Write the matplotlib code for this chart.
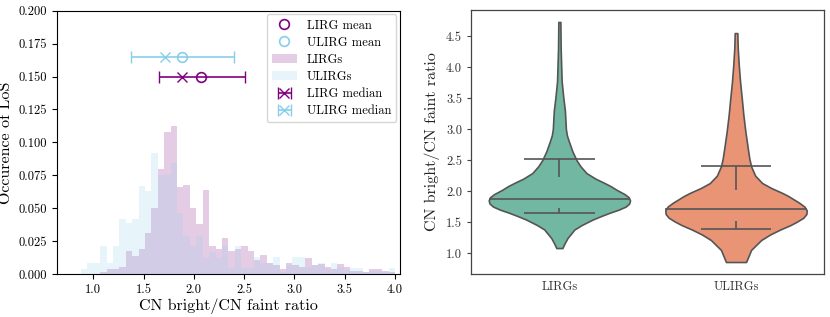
import numpy as np
import matplotlib
matplotlib.use("Agg")
import matplotlib.pyplot as plt
from matplotlib.ticker import FormatStrFormatter, MultipleLocator

plt.rcParams['font.family'] = 'serif'
plt.rcParams['font.serif'] = ['cmr10']
plt.rcParams['mathtext.fontset'] = 'cm'
plt.rcParams['axes.formatter.use_mathtext'] = True

# --- histogram (fraction of lines of sight per bin) ---
bin_lo, bin_hi, n_bins = 0.877, 4.0, 49
lirg_frac = [0, 0, 0, 0.0018, 0.0035, 0.0035, 0.005, 0.0175, 0.0137, 0.019,
             0.031, 0.050, 0.080, 0.1076, 0.1127, 0.066, 0.0676, 0.050, 0.038, 0.064,
             0.021, 0.019, 0.0276, 0.0175, 0.019, 0.021, 0.0175, 0.0106, 0.0144, 0.0086,
             0.0068, 0.0035, 0.0086, 0.0068, 0.005, 0.012, 0.0068, 0.0073, 0.005, 0.0035,
             0.0073, 0.005, 0.0025, 0.0025, 0.0018, 0.0038, 0.0035, 0.0025, 0.0018]
ulirg_frac = [0.004, 0.008, 0.008, 0.021, 0.008, 0.021, 0.042, 0.0385, 0.042, 0.067,
              0.063, 0.092, 0.075, 0.075, 0.084, 0.046, 0.029, 0.021, 0.029, 0.012,
              0.017, 0.012, 0.021, 0.0043, 0.0213, 0.0043, 0.0043, 0.0127, 0.0086, 0.0086,
              0.0127, 0.0018, 0.0068, 0.0127, 0.0127, 0.005, 0.0068, 0.0086, 0.0035, 0.0086,
              0.0056, 0.003, 0.0043, 0.0043, 0.0018, 0.0025, 0.0025, 0.0018, 0.0043]

# summary statistics
lirg_mean, ulirg_mean = 2.07, 1.88
lirg_med, lirg_p16, lirg_p84 = 1.88, 1.65, 2.51
ulirg_med, ulirg_p16, ulirg_p84 = 1.71, 1.38, 2.40
lirg_y, ulirg_y = 0.150, 0.165

# --- violin profiles (ratio, relative half width) ---
lirg_vy = [1.08, 1.15, 1.24, 1.32, 1.38, 1.45, 1.54, 1.60, 1.65, 1.70, 1.75, 1.80,
           1.85, 1.90, 1.95, 2.02, 2.08, 2.13, 2.20, 2.29, 2.4, 2.5, 2.64, 2.8, 2.9,
           3.0, 3.3, 3.5, 3.77, 4.3, 4.73]
lirg_vw = [3, 5, 8, 12, 15, 22, 33, 42, 50, 59, 66, 69.5,
           70.3, 69, 65, 57, 51, 45, 36, 27, 21, 17, 13, 9.5, 7.5,
           6.5, 5.5, 4, 2.3, 1.3, 1.0]
ulirg_vy = [0.855, 1.05, 1.21, 1.30, 1.38, 1.45, 1.51, 1.57, 1.63, 1.69, 1.75, 1.81,
            1.86, 1.92, 1.97, 2.05, 2.13, 2.25, 2.40, 2.52, 2.69, 2.96, 3.23, 3.5,
            3.77, 4.04, 4.31, 4.55]
ulirg_vw = [10, 15, 25, 34, 44, 54, 61, 67, 70, 70.3, 68, 63,
            58, 52, 46, 35, 26, 19, 15, 13.3, 11.7, 9.3, 7.3, 5.7,
            4, 2.7, 1.7, 1.3]
# short vertical stubs hanging from the caps
lirg_stub = (2.22, 1.725)
ulirg_stub = (2.01, 1.51)
categories = ['LIRGs', 'ULIRGs']

fig = plt.figure(figsize=(8.3, 3.17), dpi=100)
ax1 = fig.add_axes([0.0687, 0.1356, 0.4133, 0.8306])
ax2 = fig.add_axes([0.5675, 0.1356, 0.4257, 0.8330])

# ---------- left panel ----------
edges = np.linspace(bin_lo, bin_hi, n_bins + 1)
ax1.plot([lirg_mean], [lirg_y], 'o', mfc='none', mec='purple', ms=7, mew=1.2,
         label='LIRG mean', zorder=4)
ax1.plot([ulirg_mean], [ulirg_y], 'o', mfc='none', mec='skyblue', ms=7, mew=1.2,
         label='ULIRG mean', zorder=4)
ax1.hist(edges[:-1], bins=edges, weights=lirg_frac, color='purple', alpha=0.2,
         label='LIRGs')
ax1.hist(edges[:-1], bins=edges, weights=ulirg_frac, color='skyblue', alpha=0.2,
         label='ULIRGs')
ax1.errorbar([lirg_med], [lirg_y], xerr=[[lirg_med - lirg_p16], [lirg_p84 - lirg_med]],
             fmt='x', color='purple', ms=7, capsize=4, lw=1.2, label='LIRG median')
ax1.errorbar([ulirg_med], [ulirg_y], xerr=[[ulirg_med - ulirg_p16], [ulirg_p84 - ulirg_med]],
             fmt='x', color='skyblue', ms=7, capsize=4, lw=1.2, label='ULIRG median')

ax1.set_xlim(0.64, 4.05)
ax1.set_ylim(0, 0.2)
ax1.xaxis.set_major_locator(MultipleLocator(0.5))
ax1.yaxis.set_major_locator(MultipleLocator(0.025))
ax1.xaxis.set_major_formatter(FormatStrFormatter('%.1f'))
ax1.yaxis.set_major_formatter(FormatStrFormatter('%.3f'))
ax1.tick_params(labelsize=9, length=3.5, width=0.8)
ax1.set_xlabel('CN bright/CN faint ratio', fontsize=11.5, labelpad=2)
ax1.set_ylabel('Occurence of LoS', fontsize=11.5)
ax1.yaxis.set_label_coords(-0.128, 0.5)
ax1.legend(loc='upper right', fontsize=9, framealpha=0.8, borderaxespad=0.3,
           labelspacing=0.4)

# ---------- right panel ----------
fills = ['#72b7a1', '#e99575']
edge = '#555555'
profiles = [(lirg_vy, lirg_vw), (ulirg_vy, ulirg_vw)]
stats = [(lirg_med, lirg_p16, lirg_p84, lirg_stub),
         (ulirg_med, ulirg_p16, ulirg_p84, ulirg_stub)]
for i, ((vy, vw), (med, lo, hi, stub)) in enumerate(zip(profiles, stats)):
    hw = np.array(vw) / max(vw) * 0.4
    ax2.fill_betweenx(vy, i - hw, i + hw, facecolor=fills[i], edgecolor=edge, lw=1.2,
                      zorder=1)
    ax2.hlines(med, i - 0.4, i + 0.4, color=edge, lw=1.2, zorder=3)
    ax2.hlines([lo, hi], i - 0.2, i + 0.2, color=edge, lw=1.2, zorder=3)
    ax2.vlines(i, stub[0], hi, color=edge, lw=1.2, zorder=3)
    ax2.vlines(i, lo, stub[1], color=edge, lw=1.2, zorder=3)

ax2.set_xlim(-0.5, 1.5)
ax2.set_xticks([0, 1])
ax2.set_xticklabels(categories)
ax2.yaxis.set_major_locator(MultipleLocator(0.5))
ax2.yaxis.set_major_formatter(FormatStrFormatter('%.1f'))
ax2.tick_params(axis='y', labelsize=9, length=3, width=0.8, colors='#444444',
                labelcolor='#333333')
ax2.tick_params(axis='x', labelsize=9, length=0, labelcolor='#333333', pad=5)
for s in ax2.spines.values():
    s.set_color('#444444')
    s.set_linewidth(0.9)
ax2.set_ylabel('CN bright/CN faint ratio', fontsize=11.5, color='#222222', labelpad=4)

fig.savefig('out.png', dpi=100)
